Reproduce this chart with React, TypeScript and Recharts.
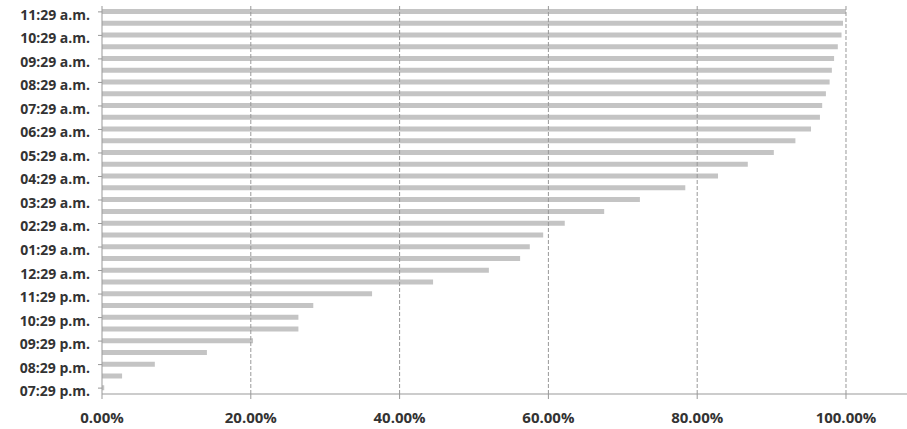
import React from 'react';
import { BarChart, Bar, XAxis, YAxis, ReferenceLine } from 'recharts';

// half-hour slots, top of the chart first
const times = [
  '11:29 a.m.', '10:59 a.m.', '10:29 a.m.', '09:59 a.m.', '09:29 a.m.', '08:59 a.m.',
  '08:29 a.m.', '07:59 a.m.', '07:29 a.m.', '06:59 a.m.', '06:29 a.m.', '05:59 a.m.',
  '05:29 a.m.', '04:59 a.m.', '04:29 a.m.', '03:59 a.m.', '03:29 a.m.', '02:59 a.m.',
  '02:29 a.m.', '01:59 a.m.', '01:29 a.m.', '12:59 a.m.', '12:29 a.m.', '11:59 p.m.',
  '11:29 p.m.', '10:59 p.m.', '10:29 p.m.', '09:59 p.m.', '09:29 p.m.', '08:59 p.m.',
  '08:29 p.m.', '07:59 p.m.', '07:29 p.m.',
];

// cumulative share (0..1)
const shares = [
  1.0, 0.996, 0.994, 0.989, 0.984, 0.981,
  0.978, 0.973, 0.968, 0.965, 0.953, 0.932,
  0.903, 0.868, 0.828, 0.784, 0.723, 0.675,
  0.622, 0.593, 0.575, 0.562, 0.52, 0.445,
  0.363, 0.284, 0.264, 0.264, 0.203, 0.141,
  0.071, 0.027, 0.003,
];

const xTicks = [0, 0.2, 0.4, 0.6, 0.8, 1.0];

const data = times.map((t, i) => ({ time: t, share: shares[i] }));

const font = '"Open Sans", "DejaVu Sans", sans-serif';

export default function App() {
  return (
    <div style={{ position: 'absolute', left: 0, top: 0, background: '#fff' }}>
      <BarChart
        width={907}
        height={429}
        data={data}
        layout="vertical"
        margin={{ top: 6, right: 0, bottom: 0, left: 0 }}
        barCategoryGap={3}
      >
        {xTicks.slice(1).map((t) => (
          <ReferenceLine key={t} x={t} stroke="#999" strokeDasharray="4 2" />
        ))}
        <XAxis
          type="number"
          domain={[0, 1.082]}
          ticks={xTicks}
          allowDataOverflow
          height={35}
          stroke="#999"
          tickSize={5}
          tickMargin={13}
          tickFormatter={(v: number) => `${(v * 100).toFixed(2)}%`}
          tick={{ fill: '#333', fontSize: 15, fontWeight: 700, fontFamily: font }}
        />
        <YAxis
          type="category"
          dataKey="time"
          width={102}
          interval={1}
          stroke="#999"
          tickSize={4}
          tickMargin={8}
          tick={{ fill: '#333', fontSize: 14, fontWeight: 700, fontFamily: font, dy: 3 }}
        />
        <Bar dataKey="share" fill="#c4c4c4" barSize={5} isAnimationActive={false} />
      </BarChart>
    </div>
  );
}
